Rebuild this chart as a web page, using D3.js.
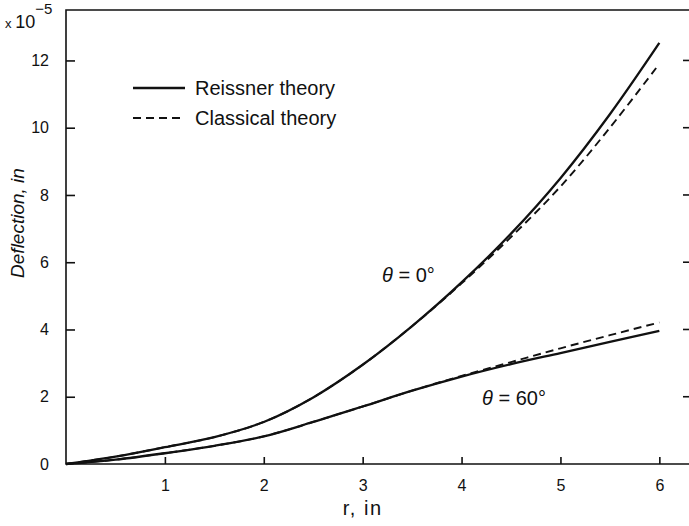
<!DOCTYPE html>
<html>
<head>
<meta charset="utf-8">
<script src="https://cdn.jsdelivr.net/npm/d3@7"></script>
<style>
    body { margin: 0; background: #fff; }
    svg { display: block; font-family: "Liberation Sans", Arial, sans-serif; }
    .frame { stroke: #111; stroke-width: 1.6; fill: none; }
    .curve { fill: none; stroke: #111; stroke-width: 2.3; }
    .dashed { stroke-dasharray: 8,5; stroke-width: 1.9; }
    text { fill: #111; }
</style>
</head>
<body>
<svg id="chart" width="689" height="526"></svg>
<script>
// r, in
const rValues = [0, 0.5, 1, 1.5, 2, 2.5, 3, 3.5, 4, 4.5, 5, 5.5, 6];
// deflection x 10^-5 in
const reissner0 = [0, 0.22, 0.5, 0.8, 1.25, 1.98, 2.95, 4.1, 5.4, 6.85, 8.5, 10.4, 12.52];
const classical0 = [0, 0.22, 0.5, 0.8, 1.25, 1.98, 2.95, 4.1, 5.37, 6.75, 8.25, 10.0, 11.9];
const reissner60 = [0, 0.13, 0.32, 0.54, 0.82, 1.25, 1.71, 2.18, 2.6, 2.97, 3.3, 3.63, 3.96];
const classical60 = [0, 0.13, 0.32, 0.54, 0.82, 1.25, 1.71, 2.18, 2.62, 3.03, 3.44, 3.83, 4.21];

const xTicks = [1, 2, 3, 4, 5, 6];
const yTicks = [0, 2, 4, 6, 8, 10, 12];
const legendLabels = ["Reissner theory", "Classical theory"];

const svg = d3.select("#chart");

const x = d3.scaleLinear().domain([0, 6.3]).range([66, 689]);
const y = d3.scaleLinear().domain([0, 13.5]).range([464, 10]);

// frame: left, top, bottom (right edge falls off the page)
svg.append("path")
    .attr("class", "frame")
    .attr("d", "M" + x(6.3) + "," + y(13.5) + "H" + x(0) + "V" + y(0) + "H" + x(6.3));

// bottom axis, ticks pointing inward
let xAxis = d3.axisBottom(x).tickValues(xTicks).tickSize(-7).tickPadding(16)
    .tickFormat(d3.format("d"));
svg.append("g")
    .attr("transform", "translate(0," + y(0) + ")")
    .call(xAxis)
    .call(g => g.select(".domain").remove())
    .call(g => g.selectAll("line").attr("stroke", "#111").attr("stroke-width", 1.6))
    .call(g => g.selectAll("text").attr("font-size", 16).attr("font-family", "Liberation Sans, Arial, sans-serif"));

// left axis, ticks pointing inward
let yAxis = d3.axisLeft(y).tickValues(yTicks).tickSize(-9).tickPadding(17)
    .tickFormat(d3.format("d"));
svg.append("g")
    .attr("transform", "translate(" + x(0) + ",0)")
    .call(yAxis)
    .call(g => g.select(".domain").remove())
    .call(g => g.selectAll(".tick line").filter(d => d === 0).remove())
    .call(g => g.selectAll("line").attr("stroke", "#111").attr("stroke-width", 1.6))
    .call(g => g.selectAll("text").attr("font-size", 16).attr("font-family", "Liberation Sans, Arial, sans-serif"));

// right side inward ticks
svg.append("g").selectAll("line")
    .data(yTicks.filter(d => d > 0))
    .join("line")
    .attr("x1", 683).attr("x2", 689)
    .attr("y1", d => y(d)).attr("y2", d => y(d))
    .attr("stroke", "#111").attr("stroke-width", 1.6);

// curves
let line = d3.line()
    .x((d, i) => x(rValues[i]))
    .y(d => y(d))
    .curve(d3.curveCatmullRom.alpha(0.5));

[reissner0, reissner60].forEach(s => {
    svg.append("path").attr("class", "curve").attr("d", line(s));
});
[classical0, classical60].forEach(s => {
    svg.append("path").attr("class", "curve dashed").attr("d", line(s));
});

// legend
let legend = svg.append("g");
legendLabels.forEach((lbl, i) => {
    let ly = 88 + i * 30;
    legend.append("line")
        .attr("class", i === 0 ? "curve" : "curve dashed")
        .attr("x1", 133).attr("x2", 185)
        .attr("y1", ly).attr("y2", ly);
    legend.append("text")
        .attr("x", 195).attr("y", ly + 7)
        .attr("font-size", 20)
        .text(lbl);
});

// curve labels
function thetaLabel(tx, ty, deg) {
    let t = svg.append("text").attr("x", tx).attr("y", ty).attr("font-size", 20);
    t.append("tspan").attr("font-style", "italic").text("θ");
    t.append("tspan").text(" = " + deg + "°");
}
thetaLabel(382, 282, 0);
thetaLabel(482, 405, 60);

// multiplier
let mult = svg.append("text").attr("x", 5).attr("y", 28).attr("font-size", 18);
mult.append("tspan").attr("font-size", 13).text("x ");
mult.append("tspan").text("10");
mult.append("tspan").attr("font-size", 15).attr("dy", -14).text("−5");

// axis titles
svg.append("text")
    .attr("x", x(3)).attr("y", 515)
    .attr("text-anchor", "middle")
    .attr("font-size", 20)
    .attr("letter-spacing", 1.5)
    .text("r, in");

svg.append("text")
    .attr("transform", "translate(24,223) rotate(-90)")
    .attr("text-anchor", "middle")
    .attr("font-size", 19)
    .attr("font-style", "italic")
    .text("Deflection, in");
</script>
</body>
</html>
